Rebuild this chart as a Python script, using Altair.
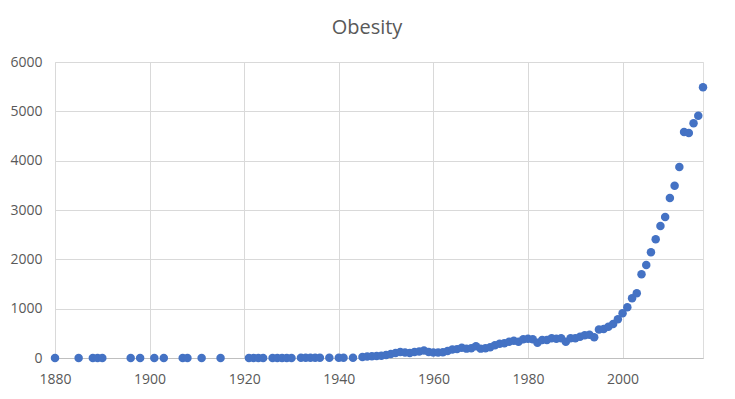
import altair as alt
import pandas as pd

years = [1880, 1885, 1888, 1889, 1890, 1896, 1898, 1901, 1903, 1907, 1908, 1911, 1915,
         1921, 1922, 1923, 1924, 1926, 1927, 1928, 1929, 1930,
         1932, 1933, 1934, 1935, 1936, 1938, 1940, 1941, 1943,
         1945, 1946, 1947, 1948, 1949, 1950, 1951, 1952, 1953, 1954,
         1955, 1956, 1957, 1958, 1959, 1960, 1961, 1962, 1963, 1964,
         1965, 1966, 1967, 1968, 1969, 1970, 1971, 1972, 1973, 1974,
         1975, 1976, 1977, 1978, 1979, 1980, 1981, 1982, 1983, 1984,
         1985, 1986, 1987, 1988, 1989, 1990, 1991, 1992, 1993, 1994,
         1995, 1996, 1997, 1998, 1999, 2000, 2001, 2002, 2003, 2004,
         2005, 2006, 2007, 2008, 2009, 2010, 2011, 2012, 2013, 2014,
         2015, 2016, 2017]

values = [1, 1, 1, 1, 1, 1, 1, 1, 1, 1, 1, 1, 1,
          2, 2, 2, 2, 2, 2, 2, 2, 2,
          3, 3, 3, 3, 3, 3, 4, 4, 4,
          20, 30, 35, 40, 45, 60, 80, 100, 120, 110,
          100, 120, 130, 150, 120, 110, 110, 115, 140, 170,
          180, 210, 190, 200, 240, 190, 200, 220, 260, 290,
          300, 330, 350, 330, 380, 390, 380, 310, 365, 365,
          400, 390, 400, 330, 400, 400, 430, 460, 470, 420,
          580, 590, 635, 690, 785, 906, 1028, 1210, 1312, 1697,
          1886, 2144, 2407, 2677, 2860, 3245, 3490, 3870, 4580, 4560,
          4760, 4910, 5490]

x_ticks = [1880, 1900, 1920, 1940, 1960, 1980, 2000]
y_ticks = [0, 1000, 2000, 3000, 4000, 5000, 6000]

df = pd.DataFrame({"year": years, "value": values})

FONT = "Open Sans"
GREY = "#595959"

chart = alt.Chart(df).mark_circle(size=72, opacity=1, color="#4472C4").encode(
    x=alt.X("year:Q",
            scale=alt.Scale(domain=[1880, 2017], nice=False, zero=False),
            axis=alt.Axis(values=x_ticks, title=None, format="d",
                          grid=True, gridColor="#d9d9d9", ticks=False,
                          domain=True, domainColor="#bfbfbf",
                          labelColor=GREY, labelFont=FONT, labelFontSize=14,
                          labelPadding=14, labelFlush=False)),
    y=alt.Y("value:Q",
            scale=alt.Scale(domain=[0, 6000], nice=False),
            axis=alt.Axis(values=y_ticks, title=None, format="d",
                          grid=True, gridColor="#d9d9d9", ticks=False,
                          domain=False,
                          labelColor=GREY, labelFont=FONT, labelFontSize=14,
                          labelPadding=13)),
).properties(
    width=648,
    height=296,
    title=alt.TitleParams("Obesity", font=FONT, fontSize=20, color=GREY,
                          fontWeight="normal", anchor="middle", offset=17, dx=-12),
    autosize=alt.AutoSizeParams(type="none"),
    padding={"left": 47, "top": 54, "right": 20, "bottom": 32},
).configure_view(stroke=None).configure(background="white")

chart.save("out.html", embed_options={"renderer": "svg", "actions": False})
